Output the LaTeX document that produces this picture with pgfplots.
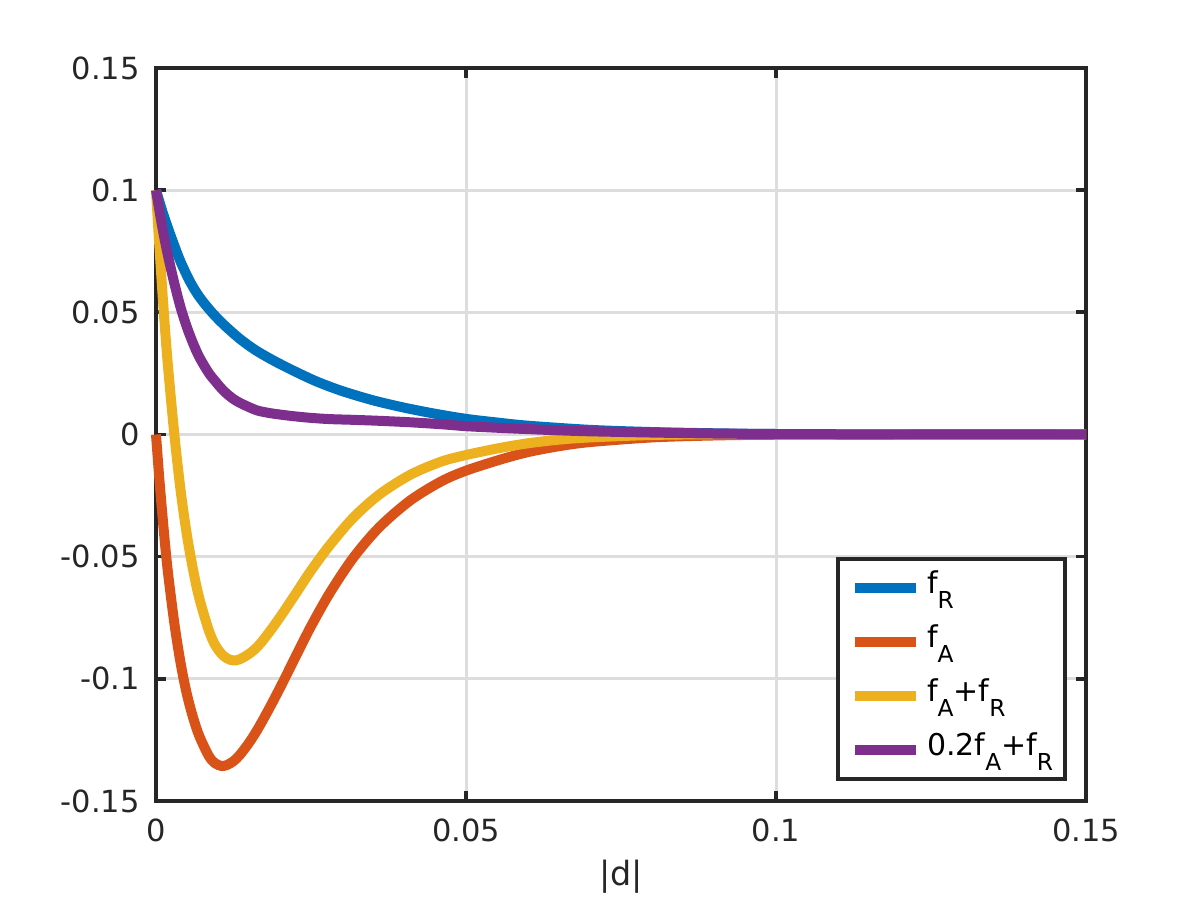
\documentclass[border=0pt]{standalone}
\usepackage{pgfplots}
\pgfplotsset{compat=1.18}
\usepackage{fontspec}
\setmainfont{DejaVu Sans}
\definecolor{mblue}{rgb}{0,0.447,0.741}
\definecolor{mred}{rgb}{0.85,0.325,0.098}
\definecolor{myellow}{rgb}{0.929,0.694,0.125}
\definecolor{mpurple}{rgb}{0.494,0.184,0.556}
\definecolor{axcol}{rgb}{0.15,0.15,0.15}
\definecolor{gridcol}{rgb}{0.865,0.865,0.865}
\newcommand{\sub}[1]{\raisebox{-9pt}{\fontsize{14}{14}\selectfont #1}}
\newcommand{\lstrut}{\rule[-13.2pt]{0pt}{32.4pt}}
\begin{document}
\begin{tikzpicture}
\path[use as bounding box] (-93.6pt,-59.4pt) rectangle (626.4pt,480.6pt);
\begin{axis}[
  scale only axis, width=558pt, height=439.8pt,
  xmin=0, xmax=0.15, ymin=-0.15, ymax=0.15,
  xtick={0,0.05,0.1,0.15}, xticklabels={0,0.05,0.1,0.15},
  ytick={-0.15,-0.1,-0.05,0,0.05,0.1,0.15},
  yticklabels={-0.15,-0.1,-0.05,0,0.05,0.1,0.15},
  scaled ticks=false,
  tick align=inside, major tick length=6pt,
  tick style={axcol, line width=2.2pt},
  axis line style={axcol, line width=2.4pt},
  grid=major, major grid style={gridcol, line width=1.8pt},
  ticklabel style={font=\fontsize{18.3}{22}\selectfont, text=axcol},
  xticklabel style={anchor=north, inner sep=0pt, yshift=-10.8pt},
  yticklabel style={anchor=east, inner sep=0pt, xshift=-9.6pt},
  xlabel={|d|},
  xlabel style={font=\fontsize{20}{24}\selectfont, text=axcol, at={(axis description cs:0.5,0)}, anchor=north, inner sep=0pt, yshift=-35.4pt},
  clip=false,
  legend cell align=left,
  legend style={at={(axis description cs:0.9800,0.0270)}, anchor=south east,
    draw=axcol, line width=2.4pt, fill=white, inner xsep=3pt, inner ysep=1.2pt,
    row sep=0pt, column sep=3.6pt, font=\fontsize{18}{18}\selectfont,
    nodes={inner sep=0pt, text depth=, text height=, text=black}},
  legend image code/.code={\path (0pt,0pt); \draw[#1] (4.2pt,0pt) -- (40.8pt,0pt);},
  every axis plot/.append style={line width=6pt, line join=round},
]
\addplot[mblue, smooth] coordinates {
(0,0.1)(0.001,0.0915)(0.002,0.0840)(0.003,0.0770)(0.004,0.0705)(0.0055,0.0625)
(0.007,0.0563)(0.009,0.0500)(0.011,0.0448)(0.0135,0.0392)(0.016,0.0346)(0.019,0.0302)
(0.0225,0.0257)(0.026,0.0216)(0.03,0.0178)(0.035,0.0140)(0.04,0.0110)(0.045,0.0085)
(0.05,0.0064)(0.055,0.0049)(0.06,0.0036)(0.07,0.0019)(0.08,0.0010)(0.09,0.0005)
(0.1,0.0002)(0.12,0.00003)(0.15,0)};
\addlegendentry{\lstrut f\sub{R}}
\addplot[mred, smooth] coordinates {
(0,0)(0.0005,-0.017)(0.001,-0.032)(0.0015,-0.046)(0.002,-0.058)(0.003,-0.078)
(0.004,-0.094)(0.005,-0.1065)(0.006,-0.116)(0.007,-0.1235)(0.0085,-0.1315)(0.0095,-0.1345)
(0.0106,-0.1357)(0.0115,-0.1352)(0.0125,-0.1337)(0.0135,-0.1312)(0.015,-0.1262)(0.0165,-0.1202)
(0.0185,-0.1110)(0.0205,-0.1012)(0.0225,-0.0910)(0.025,-0.0785)(0.028,-0.0650)
(0.0318,-0.0505)(0.036,-0.0380)(0.041,-0.0270)(0.046,-0.0192)(0.05,-0.0148)
(0.0555,-0.0103)(0.06,-0.0072)(0.065,-0.0048)(0.07,-0.0031)(0.08,-0.0012)
(0.09,-0.0004)(0.1,-0.0001)(0.12,0)(0.15,0)};
\addlegendentry{\lstrut f\sub{A}}
\addplot[myellow, smooth] coordinates {
(0,0.1)(0.0005,0.0788)(0.001,0.0595)(0.0015,0.0417)(0.002,0.026)(0.003,-0.001)
(0.004,-0.0235)(0.005,-0.0414)(0.006,-0.0556)(0.007,-0.0672)(0.0085,-0.0800)(0.0095,-0.0860)
(0.0106,-0.0899)(0.0115,-0.0917)(0.0125,-0.0925)(0.0135,-0.0920)(0.015,-0.0898)(0.0165,-0.0865)
(0.0185,-0.0801)(0.0205,-0.0729)(0.0225,-0.0653)(0.025,-0.0557)(0.028,-0.0454)
(0.0318,-0.0341)(0.036,-0.0246)(0.041,-0.0165)(0.046,-0.0111)(0.05,-0.0084)
(0.0555,-0.0055)(0.06,-0.0036)(0.065,-0.0021)(0.07,-0.0012)(0.08,-0.0002)
(0.09,0.0001)(0.1,0.0001)(0.12,0)(0.15,0)};
\addlegendentry{\lstrut f\sub{A}+f\sub{R}}
\addplot[mpurple, smooth] coordinates {
(0,0.1)(0.0005,0.0924)(0.001,0.0851)(0.0015,0.0785)(0.002,0.0724)(0.003,0.0614)
(0.004,0.0517)(0.005,0.0438)(0.006,0.0372)(0.007,0.0316)(0.0085,0.0252)(0.0095,0.0220)
(0.0106,0.0187)(0.0115,0.0165)(0.0125,0.0145)(0.0135,0.0130)(0.015,0.0112)(0.0165,0.0097)
(0.0185,0.0087)(0.0205,0.0080)(0.0225,0.0074)(0.025,0.0068)(0.028,0.0063)
(0.0318,0.0060)(0.036,0.0056)(0.041,0.0050)(0.046,0.0042)(0.05,0.0034)
(0.0555,0.0027)(0.06,0.0022)(0.065,0.0017)(0.07,0.0013)(0.08,0.0008)
(0.09,0.0004)(0.1,0.0002)(0.12,0.00003)(0.15,0)};
\addlegendentry{\lstrut\makebox[80pt][l]{0.2f\sub{A}+f\sub{R}}}
\end{axis}
\end{tikzpicture}
\end{document}
